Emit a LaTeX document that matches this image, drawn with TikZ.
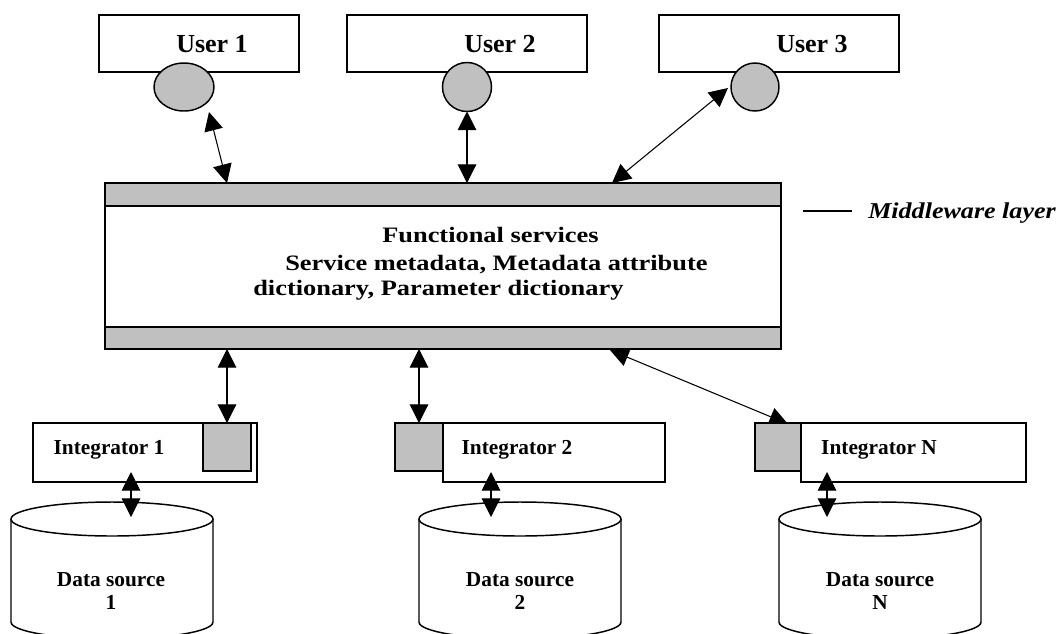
\documentclass[tikz,border=0pt]{standalone}
\usepackage{fontspec}
\setmainfont{Liberation Serif}
\newfontfamily\widefont[FakeStretch=1.2]{Liberation Serif}
\newfontfamily\midfont[FakeStretch=1.15]{Liberation Serif}
\usetikzlibrary{arrows.meta,shapes.geometric}
\definecolor{gbar}{RGB}{192,192,192}
\newdimen\px \px=0.75pt
\begin{document}
\begin{tikzpicture}[x=0.75pt,y=-0.75pt,
  box/.style={draw, line width=1.1pt, fill=white, inner sep=0pt, outer sep=0pt},
  gbox/.style={box, fill=gbar},
  ulabel/.style={font=\fontsize{19.5}{22}\selectfont\bfseries, inner sep=0pt, anchor=base},
  ilabel/.style={font=\fontsize{16}{18}\selectfont\bfseries, inner sep=0pt, anchor=base},
  dlabel/.style={font=\fontsize{16}{17.25}\selectfont\bfseries, inner sep=0pt, align=center},
  mlabel/.style={font=\widefont\bfseries\fontsize{16.5}{20}\selectfont, inner sep=0pt, anchor=base west},
  link/.style={line width=0.8pt, {Triangle[length=14pt,width=14pt]}-{Triangle[length=14pt,width=14pt]}},
  cyl/.style={draw, line width=1.1pt, fill=white},
]
\useasboundingbox (0,0) rectangle (1064,633);
\clip (0,0) rectangle (1064,633);

% users
\node[box, minimum width=200*\px, minimum height=57*\px] (u1) at (199,43.5) {};
\node[box, minimum width=240*\px, minimum height=57*\px] (u2) at (467,43.5) {};
\node[box, minimum width=240*\px, minimum height=57*\px] (u3) at (779,43.5) {};
\node[ulabel] (u1t) at (212,52) {User 1};
\node[ulabel] (u2t) at (500,52) {User 2};
\node[ulabel] (u3t) at (812,52) {User 3};
\node[gbox, ellipse, minimum width=60*\px, minimum height=48*\px] (c1) at (184,87) {};
\node[gbox, circle, minimum size=49*\px] (c2) at (467,87) {};
\node[gbox, circle, minimum size=48*\px] (c3) at (755,87) {};

% middleware
\node[box, minimum width=676*\px, minimum height=166*\px] (mw) at (443,266) {};
\draw[gbox] (mw.north west) rectangle ++(676,23);
\draw[gbox] (mw.south west) rectangle ++(676,-22);
\node[mlabel] (mt1) at (382,242) {Functional services};
\node[mlabel] (mt2) at (285,270) {Service metadata, Metadata attribute};
\node[mlabel] (mt3) at (253,295) {dictionary, Parameter dictionary};

\coordinate (mlineA) at (803,211);
\coordinate (mlineB) at (852,211);
\draw[line width=0.9pt] (mlineA) -- (mlineB);
\node[font=\midfont\bfseries\itshape\fontsize{17}{20}\selectfont, inner sep=0pt, anchor=base west] (mlayer) at (868,218) {Middleware layer};

% user arrows
\coordinate (c1tip) at (209,112);
\coordinate (m1) at (227,183);
\coordinate (m3) at (612,183);
\coordinate (c3tip) at (728,88);
\draw[link] (c1tip) -- (m1);
\draw[link] (c2.south) -- (c2.south |- mw.north);
\draw[link] (c3tip) -- (m3);

% integrators
\coordinate (m6) at (610,350);
\coordinate (sqNtip) at (788,424);
\draw[link] (m6) -- (sqNtip);

\node[box, minimum width=224*\px, minimum height=59*\px] (i1) at (145,452.5) {};
\node[gbox, minimum width=48*\px, minimum height=48*\px] (sq1) at (227,447) {};
\node[ilabel] (i1t) at (109,454) {Integrator 1};

\node[box, minimum width=222*\px, minimum height=59*\px] (i2) at (554,452.5) {};
\node[gbox, minimum width=48*\px, minimum height=48*\px] (sq2) at (419,447) {};
\node[ilabel] (i2t) at (517,454) {Integrator 2};

\node[box, minimum width=225*\px, minimum height=59*\px] (iN) at (913.5,452.5) {};
\node[gbox, minimum width=46*\px, minimum height=48*\px] (sqN) at (778,447) {};
\node[ilabel] (iNt) at (879,454) {Integrator N};

\draw[link] (sq1.north |- mw.south) -- (sq1.north);
\draw[link] (sq2.north |- mw.south) -- (sq2.north);

% data sources
\draw[cyl] (11,519) -- (11,622) arc[start angle=180, end angle=360, x radius=75.75pt, y radius=12.75pt] -- (213,519);
\draw[cyl] (112,519) ellipse[x radius=75.75pt, y radius=12.75pt];
\draw[cyl] (419,519) -- (419,622) arc[start angle=180, end angle=360, x radius=75.75pt, y radius=12.75pt] -- (621,519);
\draw[cyl] (520,519) ellipse[x radius=75.75pt, y radius=12.75pt];
\draw[cyl] (779,519) -- (779,622) arc[start angle=180, end angle=360, x radius=75.75pt, y radius=12.75pt] -- (981,519);
\draw[cyl] (880,519) ellipse[x radius=75.75pt, y radius=12.75pt];
\node[dlabel] (d1) at (111,591.5) {Data source\\1};
\node[dlabel] (d2) at (520,591.5) {Data source\\2};
\node[dlabel] (dN) at (880,591.5) {Data source\\N};

\coordinate (i1b) at (131,472);
\coordinate (d1t) at (131,517);
\coordinate (i2b) at (491,472);
\coordinate (d2t) at (491,517);
\coordinate (iNb) at (827,472);
\coordinate (dNt) at (827,517);
\draw[link] (i1b) -- (d1t);
\draw[link] (i2b) -- (d2t);
\draw[link] (iNb) -- (dNt);
\end{tikzpicture}
\end{document}
